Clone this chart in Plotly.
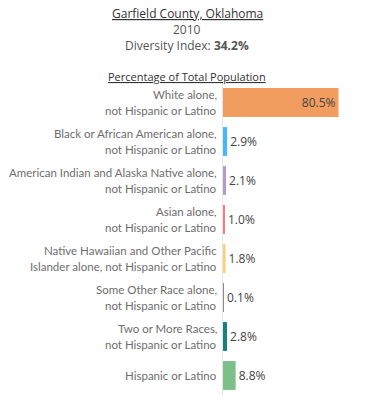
import plotly.graph_objects as go

categories = [
    "White alone,<br>not Hispanic or Latino",
    "Black or African American alone,<br>not Hispanic or Latino",
    "American Indian and Alaska Native alone,<br>not Hispanic or Latino",
    "Asian alone,<br>not Hispanic or Latino",
    "Native Hawaiian and Other Pacific<br>Islander alone, not Hispanic or Latino",
    "Some Other Race alone,<br>not Hispanic or Latino",
    "Two or More Races,<br>not Hispanic or Latino",
    "Hispanic or Latino",
]
values = [80.5, 2.9, 2.1, 1.0, 1.8, 0.1, 2.8, 8.8]
colors = ["#F09D5F", "#4BB7F5", "#B39CCB", "#F07C82", "#F6D27A", "#8C8C8C", "#16827F", "#7DBF88"]
positions = ["inside"] + ["outside"] * 7

FONT = "Open Sans"
LFONT = "Lato"
W, H = 370, 401
ML, MR, MT, MB = 223, 25, 83, 6

fig = go.Figure(go.Bar(
    x=values, y=categories, orientation="h",
    marker=dict(color=colors, line=dict(width=0)),
    width=0.74,
    text=[f"{v:.1f}%" for v in values],
    textposition=positions,
    insidetextanchor="end",
    textfont=dict(family=FONT, size=12, color="#444444"),
    cliponaxis=False,
))

heads = [
    ("Garfield County, Oklahoma", 14, dict(size=12, color="#333333", lineposition="under")),
    ("2010", 30, dict(size=12, color="#555555")),
    ("Diversity Index: <b>34.2%</b>", 45, dict(size=12, color="#555555")),
    ("Percentage of Total Population", 76, dict(size=11, color="#333333", lineposition="under")),
]
plot_w = W - ML - MR
plot_h = H - MT - MB
annotations = []
for text, ypix, f in heads:
    annotations.append(dict(
        text=text, showarrow=False,
        x=(187 - ML) / plot_w, xref="paper", xanchor="center",
        y=(H - MB - ypix) / plot_h, yref="paper", yanchor="middle",
        font=dict(family=FONT, **f)))

# category labels, one annotation per line for taller line spacing
for cat in categories:
    lines = cat.split("<br>")
    n = len(lines)
    for i, line in enumerate(lines):
        shift = (n - 1) / 2 * 16 - i * 16
        annotations.append(dict(
            text=line, showarrow=False,
            x=0, xref="paper", xanchor="right", xshift=-4,
            y=cat, yref="y", yanchor="middle", yshift=shift,
            font=dict(family=LFONT, size=11.5, color="#6E6E6E")))

fig.update_layout(
    width=W, height=H,
    margin=dict(l=ML, r=MR, t=MT, b=MB),
    paper_bgcolor="white", plot_bgcolor="white",
    showlegend=False,
    font=dict(family=FONT),
    xaxis=dict(range=[0, 85], visible=False, fixedrange=True),
    yaxis=dict(autorange="reversed", showgrid=False, zeroline=False,
               showline=True, linecolor="#E6E6E6", linewidth=1,
               ticks="", showticklabels=False, automargin=False),
    annotations=annotations,
)

fig.write_html("out.html", config=dict(displayModeBar=False),
               post_script="document.body.style.margin='0';")
